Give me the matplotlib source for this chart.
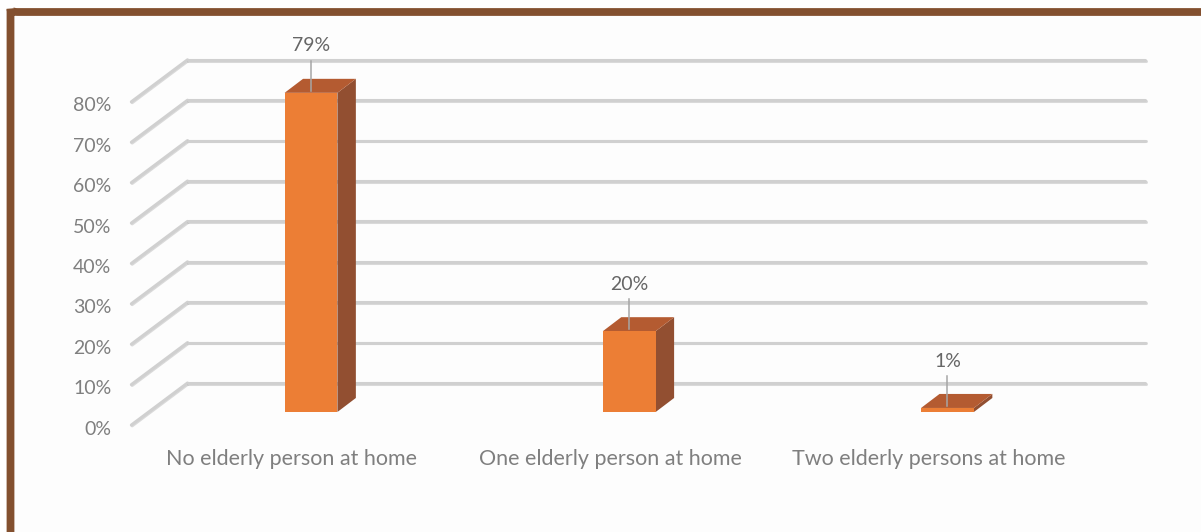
import matplotlib
matplotlib.use("Agg")
import matplotlib.pyplot as plt
from matplotlib.patches import Polygon, FancyBboxPatch
import matplotlib.patheffects as pe

plt.rcParams['font.family'] = ['Lato', 'DejaVu Sans']

# ---- data ----
categories = ["No elderly person at home",
              "One elderly person at home",
              "Two elderly persons at home"]
values = [79, 20, 1]
tick_values = [0, 10, 20, 30, 40, 50, 60, 70, 80]
tick_labels = [f"{v}%" for v in tick_values]

# ---- styling ----
FRONT = '#EC7E35'
SIDE = '#924F31'
TOP = '#B45B31'
GRID = '#D0D0D0'
TEXT = '#7F7F7F'
LABEL = '#666666'
FRAME = '#83502F'

# pseudo-3D geometry in data units (x: category units, y: percent)
BAR_W = 0.166
DEPTH_X, DEPTH_Y = 0.058, 3.47      # bar depth
BACK_X, BACK_Y = 0.122, 7.18        # back wall shift from the bar plane
FRONT_X, FRONT_Y = -0.0545, -3.22   # front floor edge shift from the bar plane
X0, X1 = -0.51, 2.5

fig = plt.figure(figsize=(12.01, 5.32), dpi=100, facecolor='white')

# frame around the chart
frame = FancyBboxPatch((10.5 / 1201, 1 - 12 / 532), 1.05, -1.1,
                       boxstyle="round,pad=0,rounding_size=0.006",
                       transform=fig.transFigure, facecolor='#FDFDFD',
                       edgecolor=FRAME, linewidth=5.6, zorder=-10)
fig.patches.append(frame)

ax = fig.add_axes([0.1238, 0.22556, 0.7976, 0.68346])
ax.set_xlim(X0, X1)
ax.set_ylim(0, 90)
ax.axis('off')

shadow = [pe.SimpleLineShadow(offset=(0.6, -0.6), shadow_color='#999999', alpha=0.35),
          pe.Normal()]

# gridlines: diagonal along the side wall, then across the back wall
for v, lab in zip(tick_values, tick_labels):
    ax.plot([X0 + FRONT_X, X0 + BACK_X], [v + FRONT_Y, v + BACK_Y],
            color=GRID, lw=2.2, solid_capstyle='round', clip_on=False,
            path_effects=shadow, zorder=1)
    ax.plot([X0 + BACK_X, X1 + BACK_X], [v + BACK_Y, v + BACK_Y],
            color=GRID, lw=2.2, solid_capstyle='round', clip_on=False,
            path_effects=shadow, zorder=1)
    ax.text(X0 + FRONT_X - 0.063, v + FRONT_Y - 1.0, lab, ha='right', va='center',
            fontsize=14, color=TEXT, clip_on=False)

xs = list(range(len(values)))

# bars: front face plus side and top faces
ax.bar(xs, values, width=BAR_W, color=FRONT, zorder=4)
for x, v in zip(xs, values):
    r = x + BAR_W / 2
    l = x - BAR_W / 2
    side = Polygon([(r, 0), (r, v), (r + DEPTH_X, v + DEPTH_Y), (r + DEPTH_X, DEPTH_Y)],
                   closed=True, facecolor=SIDE, edgecolor='none', zorder=3)
    top = Polygon([(l, v), (r, v), (r + DEPTH_X, v + DEPTH_Y), (l + DEPTH_X, v + DEPTH_Y)],
                  closed=True, facecolor=TOP, edgecolor='none', zorder=3)
    ax.add_patch(side)
    ax.add_patch(top)
    # value label with leader line
    ax.plot([x, x], [v + 0.5, v + 8], color='#A6A6A6', lw=1.1, zorder=5, clip_on=False)
    ax.text(x, v + 11.6, f"{v}%", ha='center', va='center', fontsize=14,
            color=LABEL, clip_on=False, zorder=6)

# category labels along the front edge of the floor
for x, c in zip(xs, categories):
    ax.text(x - 0.06, -11.6, c, ha='center', va='center', fontsize=15.5,
            color=TEXT, clip_on=False)

fig.savefig("out.png", dpi=100, facecolor='white')
